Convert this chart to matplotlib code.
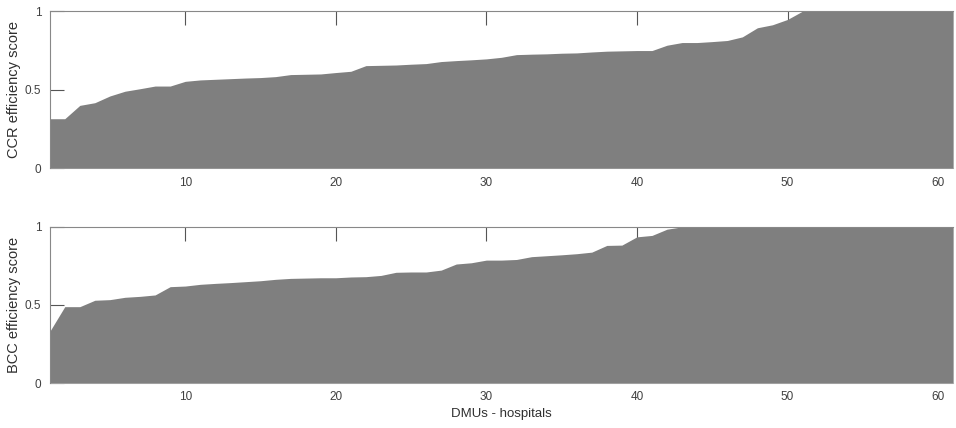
import matplotlib.pyplot as plt
import numpy as np

plt.rcParams['font.family'] = ['Liberation Sans', 'DejaVu Sans']

# DMU index (hospitals, sorted by score)
dmu = np.arange(1, 62)

# CCR efficiency scores, sorted ascending
ccr = [0.315, 0.315, 0.400, 0.417, 0.460, 0.490, 0.506, 0.523, 0.523, 0.553,
       0.562, 0.566, 0.570, 0.574, 0.577, 0.583, 0.596, 0.598, 0.600, 0.609,
       0.617, 0.653, 0.655, 0.657, 0.662, 0.666, 0.679, 0.685, 0.690, 0.696,
       0.706, 0.723, 0.726, 0.728, 0.732, 0.734, 0.740, 0.745, 0.747, 0.749,
       0.749, 0.783, 0.800, 0.800, 0.806, 0.813, 0.836, 0.894, 0.913, 0.947,
       1.0, 1.0, 1.0, 1.0, 1.0, 1.0, 1.0, 1.0, 1.0, 1.0, 1.0]

# BCC efficiency scores, sorted ascending
bcc = [0.330, 0.489, 0.489, 0.530, 0.534, 0.549, 0.555, 0.564, 0.617, 0.621,
       0.632, 0.638, 0.643, 0.649, 0.655, 0.664, 0.670, 0.672, 0.674, 0.674,
       0.679, 0.681, 0.689, 0.709, 0.711, 0.711, 0.723, 0.762, 0.770, 0.787,
       0.787, 0.791, 0.809, 0.815, 0.821, 0.828, 0.838, 0.881, 0.883, 0.936,
       0.945, 0.985, 1.0, 1.0, 1.0, 1.0, 1.0, 1.0, 1.0, 1.0,
       1.0, 1.0, 1.0, 1.0, 1.0, 1.0, 1.0, 1.0, 1.0, 1.0, 1.0]

xticks = [10, 20, 30, 40, 50, 60]
yticks = [0, 0.5, 1]

fig = plt.figure(figsize=(9.56, 4.28), dpi=100)
ax1 = fig.add_axes([0.052, 0.607, 0.945, 0.367])
ax2 = fig.add_axes([0.052, 0.105, 0.945, 0.365])

for ax, y, lab in [(ax1, ccr, 'CCR efficiency score'), (ax2, bcc, 'BCC efficiency score')]:
    ax.fill_between(dmu, y, 0, color='#7f7f7f', lw=0, zorder=3)
    ax.set_xlim(1, 61)
    ax.set_ylim(0, 1)
    ax.set_xticks(xticks)
    ax.set_yticks(yticks)
    ax.set_yticklabels(['0', '0.5', '1'])
    ax.tick_params(direction='in', length=10, width=0.8, color='#555555',
                   labelsize=8.5, labelcolor='#404040', top=True, right=False, pad=6)
    ax.set_ylabel(lab, fontsize=10.5, color='#303030', labelpad=3)
    for s in ['top', 'left']:
        ax.spines[s].set_color('#888888')
        ax.spines[s].set_zorder(4)
    ax.spines['right'].set_visible(False)
    ax.spines['bottom'].set_color('#cccccc')

ax2.set_xlabel('DMUs - hospitals', fontsize=9.5, color='#303030', labelpad=3)

plt.savefig('out.png', dpi=100)
